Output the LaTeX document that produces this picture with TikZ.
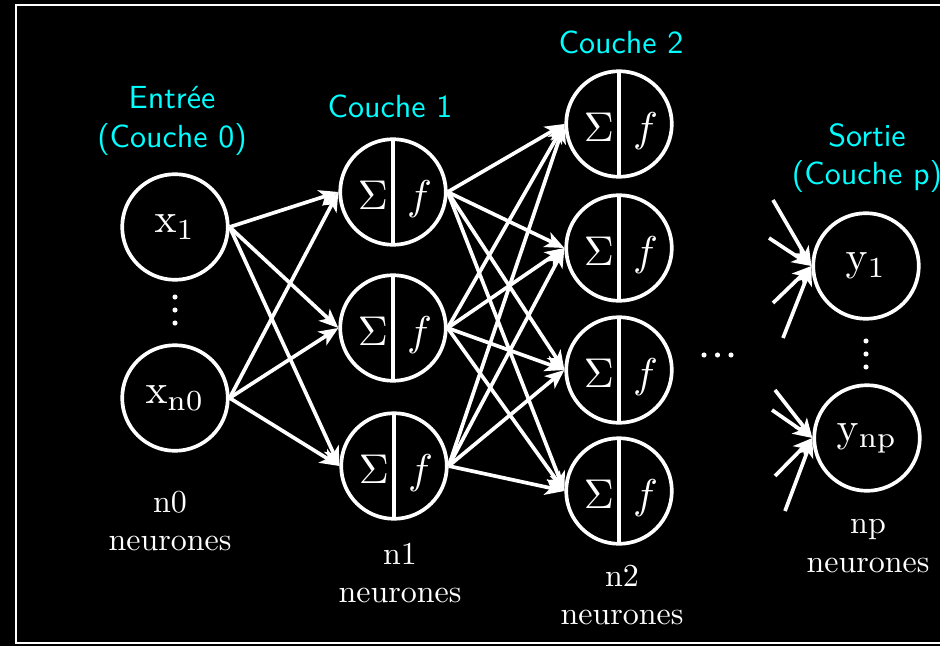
\documentclass[tikz,border=0pt]{standalone}
\usepackage{amsmath}
\usepackage{graphicx}
\usetikzlibrary{arrows.meta}
\definecolor{cyanvif}{RGB}{0,255,255}
\newcommand{\grandtexte}[1]{\scalebox{1.3}{#1}}

\begin{document}
\begin{tikzpicture}[x=0.3125pt,y=-0.3125pt,->,>={Stealth[length=6pt,width=5pt,inset=1.6pt]},
            line width=1.15pt,white,
            entree/.style={circle,draw,minimum size=33pt,inner sep=0pt},
            neurone/.style={entree,
                path picture={\draw[-] (path picture bounding box.north) -- (path picture bounding box.south);}},
            signe/.style={anchor=base,inner sep=0pt},
            titre/.style={text=cyanvif,font=\sffamily,align=center},
            nombre/.style={align=center}]
            \useasboundingbox (0,0) rectangle (940,646);
            \fill[black,-] (0,0) rectangle (940,646);
            \draw[-,line width=0.9pt] (950,5) -- (16,5) -- (16,643) -- (950,643);

            % couche 0
            \node[entree] (x1) at (175,227) {\grandtexte{$\mathrm{x}_1$}};
            \node[entree] (x2) at (175,398) {\grandtexte{$\mathrm{x}_{\mathrm{n0}}$}};

            % couche 1
            \node[neurone] (h1) at (393,192) {};
            \node[neurone] (h2) at (393,328) {};
            \node[neurone] (h3) at (394,466) {};

            % couche 2
            \node[neurone] (g1) at (619,124) {};
            \node[neurone] (g2) at (619,248) {};
            \node[neurone] (g3) at (619,370) {};
            \node[neurone] (g4) at (619,491) {};

            \foreach \n in {h1,h2,h3,g1,g2,g3,g4}{
                \node[signe] (\n s) at ([xshift=-6.3pt,yshift=-5.6pt]\n.center) {\grandtexte{$\Sigma$}};
                \node[signe] (\n f) at ([xshift=8.3pt,yshift=-5.6pt]\n.center) {\grandtexte{$f$}};
            }

            % sortie
            \node[entree] (y1) at (866,266) {\grandtexte{$\mathrm{y}_1$}};
            \node[entree] (y2) at (867,438) {\grandtexte{$\mathrm{y}_{\mathrm{np}}$}};

            % points de suspension
            \foreach \d in {0,1,2}{
                \fill[-] (175,297+13*\d) circle (0.8pt);
                \fill[-] (866,341+13*\d) circle (0.8pt);
                \fill[-] (704+13.5*\d,355) circle (0.8pt);
            }

            \node[titre] (t0) at (172,121) {Entrée\\(Couche 0)};
            \node[titre] (t1) at (390,106) {Couche 1};
            \node[titre] (t2) at (621,42) {Couche 2};
            \node[titre] (t3) at (867,158) {Sortie\\(Couche p)};
            \node[nombre] (n0) at (170,521) {n0\\neurones};
            \node[nombre] (n1) at (400,573) {n1\\neurones};
            \node[nombre] (n2) at (622,595) {n2\\neurones};
            \node[nombre] (np) at (868,546) {np\\neurones};

            \foreach \i in {1,2}
                \foreach \j in {1,2,3}
                    \draw (x\i.east) -- (h\j.west);
            \foreach \i in {1,2,3}
                \foreach \j in {1,2,3,4}
                    \draw (h\i.east) -- (g\j.west);

            % connexions venant de la couche p-1
            \foreach \k/\u/\v in {1/773/200, 2/769/238, 3/773/303, 4/783/338}{
                \coordinate (a\k) at (\u,\v);
                \draw (a\k) -- (y1.west);
            }
            \foreach \k/\u/\v in {1/775/390, 2/772/410, 3/775/476, 4/785/511}{
                \coordinate (b\k) at (\u,\v);
                \draw (b\k) -- (y2.west);
            }
\end{tikzpicture}
\end{document}
